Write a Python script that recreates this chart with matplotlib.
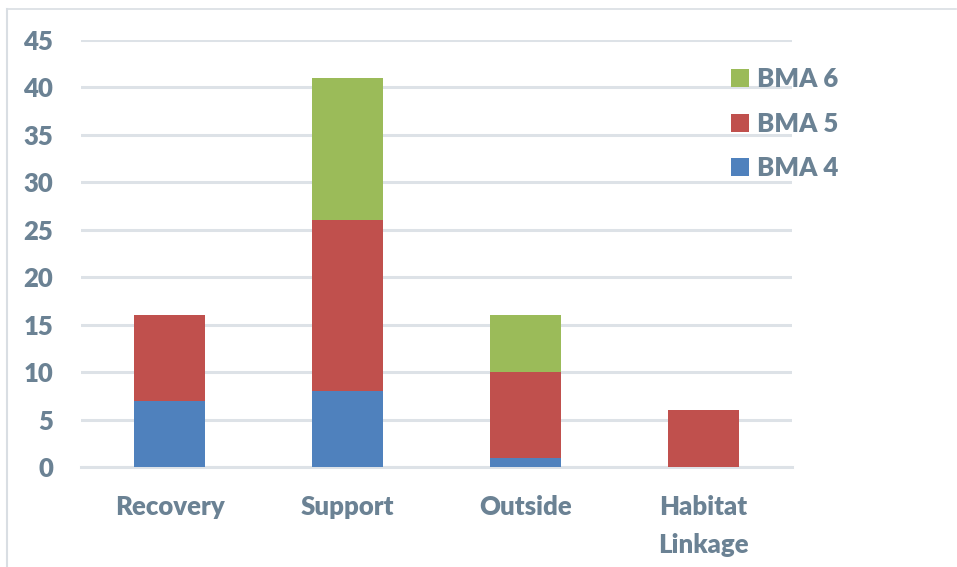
import matplotlib
matplotlib.use("Agg")
import matplotlib.pyplot as plt
from matplotlib.lines import Line2D
from matplotlib.patches import Patch
from matplotlib import font_manager as fm

categories = ["Recovery", "Support", "Outside", "Habitat\nLinkage"]
bma4 = [7, 8, 1, 0]
bma5 = [9, 18, 9, 6]
bma6 = [0, 15, 6, 0]
series_names = ["BMA 4", "BMA 5", "BMA 6"]
yticks = [0, 5, 10, 15, 20, 25, 30, 35, 40, 45]

colors = ["#4F81BD", "#C0504D", "#9BBB59"]
text_color = "#6B8294"
grid_color = "#DDE2E7"


def heavy_font(size):
    # prefer Lato Black, then Lato Bold, then DejaVu Sans Bold
    files = {f.fname.split("/")[-1]: f.fname for f in fm.fontManager.ttflist}
    for name in ("Lato-Black.ttf", "Lato-Heavy.ttf", "Lato-Bold.ttf"):
        if name in files:
            return fm.FontProperties(fname=files[name], size=size)
    return fm.FontProperties(family="DejaVu Sans", weight="bold", size=size)


fp = heavy_font(18.5)

W, H = 957, 567
fig = plt.figure(figsize=(W / 100, H / 100), dpi=100)
ax = fig.add_axes([81 / W, 1 - 467 / H, (792 - 81) / W, (467 - 40) / H])

x = list(range(len(categories)))
bottom5 = bma4
bottom6 = [a + b for a, b in zip(bma4, bma5)]
for vals, bot, c in [(bma4, [0] * 4, colors[0]), (bma5, bottom5, colors[1]), (bma6, bottom6, colors[2])]:
    ax.bar(x, vals, bottom=bot, width=0.4, color=c, zorder=3)

ax.set_xlim(-0.5, 3.5)
ax.set_ylim(0, 45)
ax.set_yticks(yticks)
ax.set_yticklabels([str(t) for t in yticks], fontproperties=fp, color=text_color)
ax.yaxis.grid(True, color=grid_color, linewidth=2.2, zorder=0)
ax.set_axisbelow(True)
for s in ["top", "right", "left"]:
    ax.spines[s].set_visible(False)
ax.spines["bottom"].set_color(grid_color)
ax.spines["bottom"].set_linewidth(2.2)
ax.tick_params(axis="both", length=0)
ax.tick_params(axis="y", pad=20)
ax.tick_params(axis="x", pad=20)
ax.set_xticks(x)
ax.set_xticklabels(categories, linespacing=1.7, fontproperties=fp, color=text_color)

handles = [Patch(facecolor=colors[i], edgecolor="none") for i in [2, 1, 0]]
labels = [series_names[i] for i in [2, 1, 0]]
leg = fig.legend(handles, labels, loc="upper left", bbox_to_anchor=(708 / W, 1 - 44 / H),
                 frameon=False, prop=fp,
                 handlelength=0.7, handleheight=0.7, handletextpad=0.3, labelspacing=0.8)
for t in leg.get_texts():
    t.set_color(text_color)

# outer frame
fig.add_artist(Line2D([7 / W, 7 / W], [0, 1 - 9 / H], color="#D9DEE3", linewidth=1.5))
fig.add_artist(Line2D([7 / W, 956 / W], [1 - 9 / H, 1 - 9 / H], color="#D9DEE3", linewidth=1.2))

fig.savefig("out.png", dpi=100)
